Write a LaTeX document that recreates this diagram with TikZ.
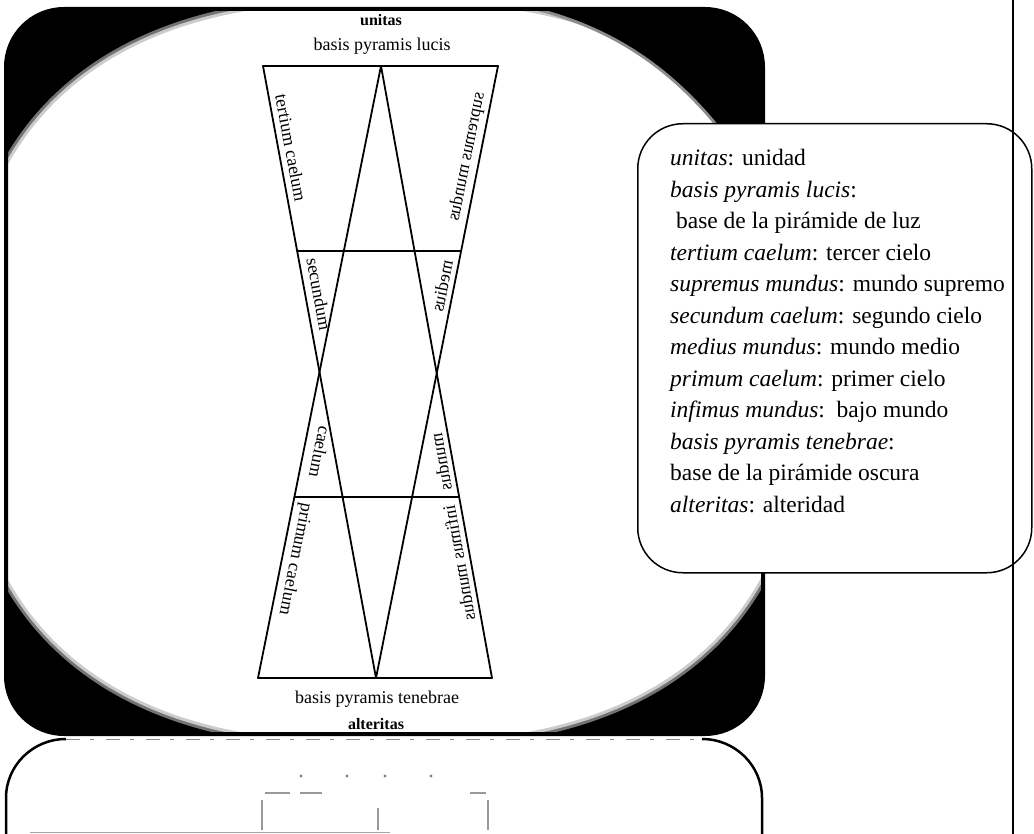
\documentclass[tikz,border=0pt]{standalone}
\usepackage{fontspec}
\setmainfont{Liberation Serif}
\usetikzlibrary{calc}
\tikzset{
  dline/.style={line width=1.8pt, line cap=round, line join=miter},
  lbl/.style={font=\fontsize{18}{20}\selectfont, inner sep=0pt},
  toplbl/.style={font=\fontsize{18}{20}\selectfont, inner sep=0pt},
  legendbox/.style={draw, line width=1.5pt, fill=white, rounded corners=45pt},
  faint/.style={black!40, line width=1.2pt},
}
\begin{document}
\begin{tikzpicture}[x=1pt,y=-1pt]
\useasboundingbox (0,0) rectangle (1034,834);
\fill[white] (0,0) rectangle (1034,834);

% dark frame with a light blotch inside
\begin{scope}
\clip[rounded corners=58pt] (5,8) rectangle (764,735);
\fill[black] (0,0) rectangle (770,740);
\def\blob{plot[domain=0.5:360.5, samples=121, smooth, variable=\t]
  ({384+420*cos(\t)*abs(cos(\t))^(-0.2)}, {372+372*sin(\t)*abs(sin(\t))^(-0.2)})}
\draw[line width=9pt, black!55] \blob;
\draw[line width=3pt, black!20, fill=white] \blob;
\draw[line width=6pt, black!45] (500,0) .. controls (620,20) and (700,80) .. (770,200);
\fill[black] (500,0) .. controls (620,20) and (700,80) .. (770,200) -- (770,0) -- cycle;
\end{scope}
\draw[line width=4pt, rounded corners=58pt] (6,9) rectangle (763,734);

% hourglass diagram
\coordinate (TL) at (263,66);
\coordinate (TA) at (381,66);
\coordinate (TR) at (498,66);
\coordinate (BL) at (258,678);
\coordinate (BA) at (376,678);
\coordinate (BR) at (492,678);
\coordinate (H1L) at ($(TL)!0.3023!(BA)$);
\coordinate (H1R) at ($(TR)!0.3023!(BA)$);
\coordinate (H2L) at ($(TA)!0.7042!(BL)$);
\coordinate (H2R) at ($(TA)!0.7042!(BR)$);
\draw[dline] (TL) -- (TR);
\draw[dline] (BL) -- (BR);
\draw[dline] (TL) -- (BA);
\draw[dline] (TR) -- (BA);
\draw[dline] (TA) -- (BL);
\draw[dline] (TA) -- (BR);
\draw[dline] (H1L) -- (H1R);
\draw[dline] (H2L) -- (H2R);

% labels along the sides
\node[lbl, rotate=-79.5] (tc) at (291,148) {tertium caelum};
\node[lbl, rotate=-79.5] (sc) at (319,294) {secundum};
\node[lbl, rotate=-101.4] (ca) at (320,452) {caelum};
\node[lbl, rotate=-101.4] (pc) at (295,559) {primum caelum};
\node[lbl, rotate=-101.3, yscale=-1] (sm) at (467,157) {supremus mundus};
\node[lbl, rotate=-101.3, yscale=-1] (me) at (442,286) {medius};
\node[lbl, rotate=-79.7, yscale=-1] (mu) at (441,462) {mundus};
\node[lbl, rotate=-79.7, yscale=-1] (im) at (459,563) {infimus mundus};

% top and bottom texts
\node[toplbl, font=\fontsize{16}{18}\selectfont\bfseries] (un) at (381,20) {unitas};
\node[toplbl] (bl) at (382,46) {basis pyramis lucis};
\node[toplbl] (bt) at (377,699) {basis pyramis tenebrae};
\node[toplbl, font=\fontsize{16}{18}\selectfont\bfseries] (al) at (376,724) {alteritas};

% legend
\node[legendbox, minimum width=394pt, minimum height=449pt, anchor=north west] (lg) at (637,123) {};
\node[anchor=north west, inner sep=0pt, align=left, font=\fontsize{23.5}{31.5}\selectfont] (lt) at (670,149) {%
\textit{unitas}: unidad\\
\textit{basis pyramis lucis}:\\
\ base de la pirámide de luz\\
\textit{tertium caelum}: tercer cielo\\
\textit{supremus mundus}: mundo supremo\\
\textit{secundum caelum}: segundo cielo\\
\textit{medius mundus}: mundo medio\\
\textit{primum caelum}: primer cielo\\
\textit{infimus mundus}:\ \ bajo mundo\\
\textit{basis pyramis tenebrae}:\\
base de la pirámide oscura\\
\textit{alteritas}: alteridad};

% page rule
\coordinate (rt) at (1013,0);
\coordinate (rb) at (1013,834);
\draw[line width=2pt] (rt) -- (rb);

% lower box (top part only)
\coordinate (l1) at (6,840);
\coordinate (l2) at (6,798);
\coordinate (l3) at (66,739);
\coordinate (r3) at (702,739);
\coordinate (r2) at (762,798);
\coordinate (r1) at (762,840);
\draw[line width=2.5pt] (l1) -- (l2) arc[start angle=180, end angle=270, x radius=60, y radius=59];
\draw[line width=2.5pt] (r1) -- (r2) arc[start angle=0, end angle=-90, x radius=60, y radius=59];
\draw[black!45, line width=1pt, dash pattern=on 14pt off 10pt on 4pt off 12pt] (l3) -- (r3);

% faint show-through marks
\coordinate (m1) at (262,800); \coordinate (m1b) at (262,830);
\coordinate (m2) at (378,808); \coordinate (m2b) at (378,830);
\coordinate (m3) at (488,800); \coordinate (m3b) at (488,830);
\draw[faint] (m1) -- (m1b);
\draw[faint] (m2) -- (m2b);
\draw[faint] (m3) -- (m3b);
\coordinate (d1) at (265,793); \coordinate (d1b) at (290,793);
\coordinate (d2) at (300,793); \coordinate (d2b) at (322,793);
\coordinate (d3) at (470,793); \coordinate (d3b) at (486,793);
\draw[faint] (d1) -- (d1b);
\draw[faint] (d2) -- (d2b);
\draw[faint] (d3) -- (d3b);
\foreach \px in {301,347,385,431} { \fill[black!50] (\px,776) circle[radius=1.6]; }
\coordinate (g1) at (30,832); \coordinate (g2) at (390,832);
\draw[black!35, line width=1pt] (g1) -- (g2);
\end{tikzpicture}
\end{document}
